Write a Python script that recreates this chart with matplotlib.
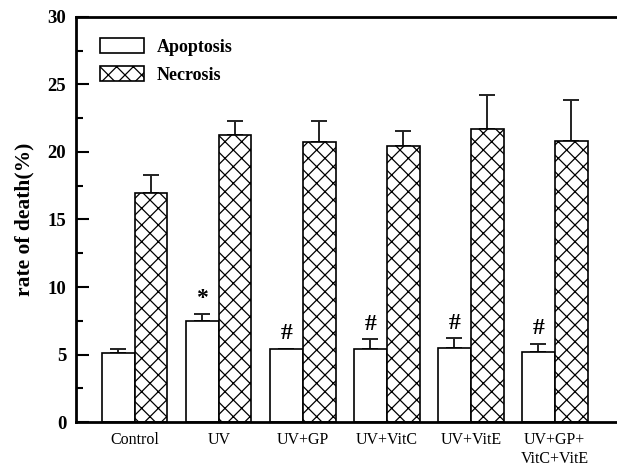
import numpy as np
import matplotlib
matplotlib.use('Agg')
import matplotlib.pyplot as plt
from matplotlib.ticker import MultipleLocator

plt.rcParams['font.family'] = ['Liberation Serif', 'DejaVu Serif']
plt.rcParams['hatch.linewidth'] = 0.9

groups = ['Control', 'UV', 'UV+GP', 'UV+VitC', 'UV+VitE', 'UV+GP+\nVitC+VitE']
apoptosis = [5.13, 7.5, 5.38, 5.38, 5.48, 5.16]
apoptosis_err = [0.25, 0.5, 0.07, 0.74, 0.72, 0.64]
necrosis = [16.94, 21.26, 20.74, 20.44, 21.68, 20.84]
necrosis_err = [1.38, 1.04, 1.56, 1.14, 2.54, 3.0]
marks = ['', '*', '#', '#', '#', '#']

fig = plt.figure(figsize=(6.17, 4.67), dpi=100)
ax = fig.add_axes([0.123, 0.096, 0.877, 0.868])

x = np.arange(len(groups))
w = 0.39

ax.bar(x - w / 2, apoptosis, w, color='white', edgecolor='black',
       linewidth=1.2, label='Apoptosis', zorder=2)
ax.bar(x + w / 2, necrosis, w, color='white', edgecolor='black',
       hatch='xx', linewidth=1.2, label='Necrosis', zorder=2)

ax.errorbar(x - w / 2, apoptosis, yerr=[np.zeros(6), apoptosis_err], fmt='none',
            ecolor='#222222', elinewidth=1.4, capsize=6, capthick=1.4, zorder=1)
ax.errorbar(x + w / 2, necrosis, yerr=[np.zeros(6), necrosis_err], fmt='none',
            ecolor='#222222', elinewidth=1.4, capsize=6, capthick=1.4, zorder=1)

for i, m in enumerate(marks):
    if m:
        top = apoptosis[i] + apoptosis_err[i]
        ax.text(x[i] - w / 2, top + 0.35, m, ha='center', va='bottom',
                fontsize=17, fontweight='bold')

ax.set_xlim(-0.70, 5.74)
ax.set_ylim(0, 30)
ax.set_xticks(x)
ax.set_xticklabels(groups, fontsize=11.5, linespacing=1.3)
ax.tick_params(axis='x', length=0, pad=7)
ax.yaxis.set_major_locator(MultipleLocator(5))
ax.yaxis.set_minor_locator(MultipleLocator(2.5))
ax.tick_params(axis='y', which='major', direction='in', length=9, width=1.5,
               labelsize=13.5, pad=7)
ax.tick_params(axis='y', which='minor', direction='in', length=5, width=1.5)
for lbl in ax.get_yticklabels():
    lbl.set_fontweight('bold')

ax.set_ylabel('rate of death(%)', fontsize=15.5, fontweight='bold', labelpad=9)

for s in ['left', 'bottom', 'top']:
    ax.spines[s].set_linewidth(2)
ax.spines['right'].set_visible(False)

ax.legend(loc='upper left', bbox_to_anchor=(0.015, 0.988), frameon=False,
          prop={'weight': 'bold', 'size': 13}, handlelength=2.45,
          handleheight=0.9, handletextpad=0.67, labelspacing=0.6)

fig.savefig('out.png', dpi=100)
